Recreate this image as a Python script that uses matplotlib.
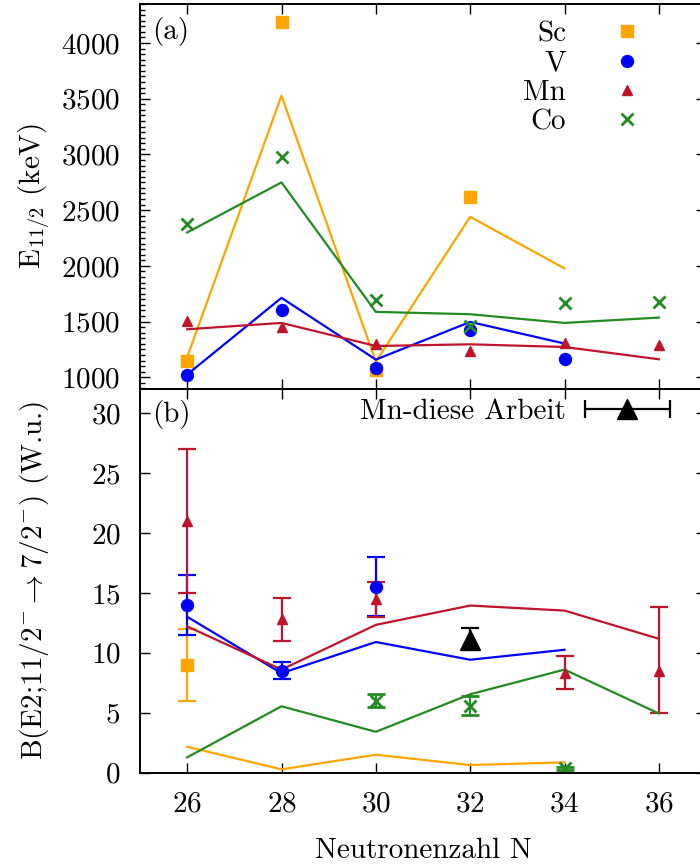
import matplotlib
matplotlib.use('Agg')
import numpy as np
import matplotlib.pyplot as plt
from matplotlib.legend_handler import HandlerErrorbar
from matplotlib.ticker import MultipleLocator, NullLocator
from matplotlib.container import ErrorbarContainer

plt.rcParams['font.family'] = 'cmr10'
plt.rcParams['mathtext.fontset'] = 'cm'
plt.rcParams['axes.formatter.use_mathtext'] = True
plt.rcParams['font.size'] = 21

# ---------------- data ----------------
x_ticks = [26, 28, 30, 32, 34, 36]

# Panel (a): excitation energy of 11/2- state (keV)
sc_N_exp = [26, 28, 30, 32]
sc_E_exp = [1146, 4192, 1063, 2620]
sc_N_th = [26, 28, 30, 32, 34]
sc_E_th = [1180, 3527, 1140, 2440, 1977]

v_N = [26, 28, 30, 32, 34]
v_E_exp = [1021, 1608, 1087, 1428, 1165]
v_E_th = [1025, 1713, 1159, 1497, 1303]

mn_N = [26, 28, 30, 32, 34, 36]
mn_E_exp = [1503, 1452, 1303, 1237, 1308, 1294]
mn_E_th = [1431, 1488, 1281, 1296, 1272, 1162]

co_N = [26, 28, 30, 32, 34, 36]
co_E_exp = [2372, 2974, 1692, 1458, 1668, 1677]
co_E_th = [2300, 2749, 1587, 1566, 1488, 1536]

# Panel (b): B(E2; 11/2- -> 7/2-) (W.u.)
sc_B_N = [26]
sc_B_exp = [9.0]
sc_B_err = [3.0]
sc_B_th = [2.16, 0.28, 1.5, 0.64, 0.86]

v_B_N = [26, 28, 30]
v_B_exp = [14.0, 8.5, 15.5]
v_B_err = [2.5, 0.7, 2.45]
v_B_th = [13.0, 8.3, 10.9, 9.42, 10.25]

mn_B_N = [26, 28, 30, 34, 36]
mn_B_exp = [21.0, 12.8, 14.5, 8.3, 8.5]
mn_B_err_lo = [6.0, 1.8, 1.5, 1.3, 3.5]
mn_B_err_hi = [6.0, 1.8, 1.4, 1.4, 5.3]
mn_B_th = [12.2, 8.6, 12.33, 13.94, 13.52, 11.17]

co_B_N = [30, 32, 34]
co_B_exp = [6.0, 5.6, 0.36]
co_B_err = [0.55, 0.8, 0.1]
co_B_th = [1.28, 5.54, 3.41, 6.54, 8.6, 4.94]

this_N = [32]
this_B = [11.1]
this_err_lo = [0.8]
this_err_hi = [1.0]

c_sc = '#FFA500'
c_v = '#0000FF'
c_mn = '#C0142C'
c_co = '#228B22'

fig = plt.figure(figsize=(7, 8.64), dpi=100)
W, H = 700.0, 864.0
ax1 = fig.add_axes([140 / W, 1 - 389 / H, 566 / W, 385 / H])
ax2 = fig.add_axes([140 / W, 1 - 772.7 / H, 566 / W, 383.7 / H])

lw = 1.6
# ---- panel (a)
h_sc, = ax1.plot(sc_N_exp, sc_E_exp, 's', color=c_sc, ms=8.6, ls='none', label='Sc')
ax1.plot(sc_N_th, sc_E_th, '-', color=c_sc, lw=lw)
h_v, = ax1.plot(v_N, v_E_exp, 'o', color=c_v, ms=8.6, ls='none', label='V')
ax1.plot(v_N, v_E_th, '-', color=c_v, lw=lw)
h_mn, = ax1.plot(mn_N, mn_E_exp, '^', color=c_mn, ms=7.5, ls='none', label='Mn')
ax1.plot(mn_N, mn_E_th, '-', color=c_mn, lw=lw)
h_co, = ax1.plot(co_N, co_E_exp, 'x', color=c_co, ms=9, mew=2, ls='none', label='Co')
ax1.plot(co_N, co_E_th, '-', color=c_co, lw=lw)

ax1.set_xlim(25, 37)
ax1.set_ylim(895, 4350)
ax1.set_xticks(x_ticks)
ax1.xaxis.set_minor_locator(NullLocator())
ax1.yaxis.set_major_locator(MultipleLocator(500))
ax1.yaxis.set_minor_locator(MultipleLocator(50))
ax1.tick_params(axis='both', which='major', direction='in', length=7, width=1,
                top=True, right=True, labelbottom=False, pad=14)
ax1.tick_params(axis='y', which='minor', direction='in', length=3.5, width=1,
                left=True, right=False)
ax1.text(12 / 566, 1 - 28 / 385, '(a)', transform=ax1.transAxes, ha='left', va='center')

leg1 = ax1.legend(handles=[h_sc, h_v, h_mn, h_co], markerfirst=False, frameon=False,
                  handlelength=3.0, handletextpad=0.6, labelspacing=0.1,
                  borderpad=0, borderaxespad=0, loc='upper right',
                  bbox_to_anchor=(671 / W, 1 - 21 / H), bbox_transform=fig.transFigure)

# ---- panel (b)
cap = 6.5
ax2.errorbar(sc_B_N, sc_B_exp, yerr=sc_B_err, fmt='s', color=c_sc, ms=8.6,
             capsize=cap, capthick=lw, elinewidth=lw)
ax2.plot(sc_N_th, sc_B_th, '-', color=c_sc, lw=lw)
ax2.errorbar(v_B_N, v_B_exp, yerr=v_B_err, fmt='o', color=c_v, ms=8.6,
             capsize=cap, capthick=lw, elinewidth=lw)
ax2.plot(v_N, v_B_th, '-', color=c_v, lw=lw)
ax2.errorbar(mn_B_N, mn_B_exp, yerr=[mn_B_err_lo, mn_B_err_hi], fmt='^', color=c_mn,
             ms=7.5, capsize=cap, capthick=lw, elinewidth=lw)
ax2.plot(mn_N, mn_B_th, '-', color=c_mn, lw=lw)
ax2.errorbar(co_B_N, co_B_exp, yerr=co_B_err, fmt='x', color=c_co, ms=9, mew=2,
             capsize=cap, capthick=lw, elinewidth=lw)
ax2.plot(co_N, co_B_th, '-', color=c_co, lw=lw)
ax2.errorbar(this_N, this_B, yerr=[this_err_lo, this_err_hi], fmt='^', color='black',
             ms=14, capsize=cap, capthick=lw, elinewidth=lw)

# legend proxy (not drawn in the axes: NaN position)
proxy = ax2.errorbar([np.nan], [np.nan], xerr=[1.0], fmt='^', color='black', ms=14,
                     capsize=cap, capthick=lw, elinewidth=lw, label='Mn-diese Arbeit')
ax2.legend(handles=[proxy], markerfirst=False, frameon=False,
           handlelength=3.0, handletextpad=0.6, borderpad=0, borderaxespad=0,
           loc='upper right', bbox_to_anchor=(671 / W, 1 - 399 / H),
           bbox_transform=fig.transFigure,
           handler_map={ErrorbarContainer: HandlerErrorbar(xerr_size=1.45)})

ax2.set_xlim(25, 37)
ax2.set_ylim(0, 32)
ax2.set_xticks(x_ticks)
ax2.set_yticks([0, 5, 10, 15, 20, 25, 30])
ax2.xaxis.set_minor_locator(NullLocator())
ax2.yaxis.set_minor_locator(NullLocator())
ax2.tick_params(axis='both', which='major', direction='in', length=7, width=1,
                top=True, right=True)
ax2.tick_params(axis='y', pad=14)
ax2.tick_params(axis='x', pad=13)
ax2.text(12 / 566, 1 - 25 / 383.7, '(b)', transform=ax2.transAxes, ha='left', va='center')
ax2.set_xlabel('Neutronenzahl N', labelpad=15)

for ax in (ax1, ax2):
    for s in ax.spines.values():
        s.set_linewidth(1.4)

fig.text(35 / W, 1 - 196 / H, r'$\mathrm{E}_{11/2}$ (keV)', rotation=90,
         ha='center', va='center')
fig.text(35 / W, 1 - 580 / H,
         r'B(E2;11/2$^{-}\rightarrow$7/2$^{-}$) (W.u.)', rotation=90,
         ha='center', va='center')

fig.savefig('out.png', dpi=100)
